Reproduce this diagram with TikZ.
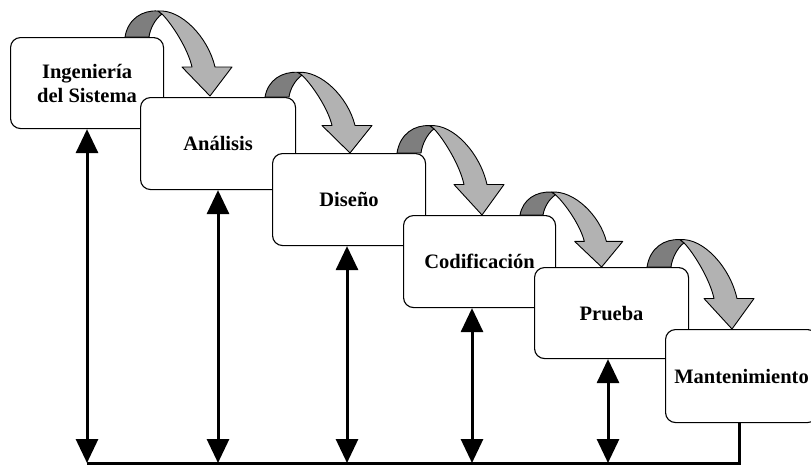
\documentclass[tikz,border=0pt]{standalone}
\usepackage{fontspec}
\setmainfont{Liberation Serif}
\usetikzlibrary{arrows.meta}

\definecolor{ribbonlight}{RGB}{178,178,178}
\definecolor{ribbondark}{RGB}{126,126,126}

\tikzset{
  stage/.style={draw=black, line width=1.1pt, rounded corners=10pt, fill=white,
    inner sep=0pt, align=center, anchor=north west,
    font=\bfseries\fontsize{20.5}{24}\selectfont},
  link/.style={line width=3pt,
    {Triangle[width=22pt,length=24pt]}-{Triangle[width=22pt,length=24pt]}},
  bus/.style={line width=3pt, line join=miter},
  ribbonback/.style={fill=ribbondark, draw=black, line width=0.9pt, line join=round},
  ribbonfront/.style={fill=ribbonlight, draw=black, line width=0.9pt, line join=round},
  % curved block arrow hopping from one stage onto the next one
  turn/.pic={
    \path[ribbonback] (0,0) .. controls (3,-18) and (17,-27) .. (33,-26)
      -- (37,-23) .. controls (30,-18) and (25,-8) .. (24,0) -- cycle;
    \path[ribbonfront] (33,-26) .. controls (56,-28) and (83,0) .. (90,30)
      -- (107,30) -- (85,59) -- (57,30) -- (67,30)
      .. controls (63,12) and (47,-13) .. (37,-23) -- cycle;
  }
}

\begin{document}
\begin{tikzpicture}[x=1pt, y=-1pt]
  \useasboundingbox (0,0) rectangle (811,469);
  \fill[white] (0,0) rectangle (811,469);

  % stages of the cascade, each one laid over the previous
  \node[stage, minimum width=153pt, minimum height=91pt] (s1) at (10,37)
    {Ingeniería\\del Sistema};
  \pic at (125,37) {turn};
  \node[stage, minimum width=155pt, minimum height=92pt] (s2) at (140,97)
    {Análisis};
  \pic[yscale=56/59] at (265,97) {turn};
  \node[stage, minimum width=153pt, minimum height=92pt] (s3) at (272,153)
    {Diseño};
  \pic[yscale=62/59] at (397,153) {turn};
  \node[stage, minimum width=152pt, minimum height=92pt] (s4) at (403,215)
    {Codificación};
  \pic[yscale=52/59, xscale=0.96] at (520,215) {turn};
  \node[stage, minimum width=154pt, minimum height=91pt] (s5) at (534,267)
    {Prueba};
  \pic[yscale=62/59] at (647,267) {turn};
  \node[stage, minimum width=152pt, minimum height=93pt] (s6) at (665,329)
    {Mantenimiento};

  % feedback bus along the bottom
  \coordinate (b1) at (87,463);
  \coordinate (b2) at (218,463);
  \coordinate (b3) at (347,463);
  \coordinate (b4) at (472,463);
  \coordinate (b5) at (608,463);
  \coordinate (b6) at (739,463);

  \draw[link] (b1 |- s1.south) -- (b1);
  \draw[link] (b2 |- s2.south) -- (b2);
  \draw[link] (b3 |- s3.south) -- (b3);
  \draw[link] (b4 |- s4.south) -- (b4);
  \draw[link] (b5 |- s5.south) -- (b5);
  \draw[bus] (b1) -- (b6) -- (b6 |- s6.south);
\end{tikzpicture}
\end{document}
